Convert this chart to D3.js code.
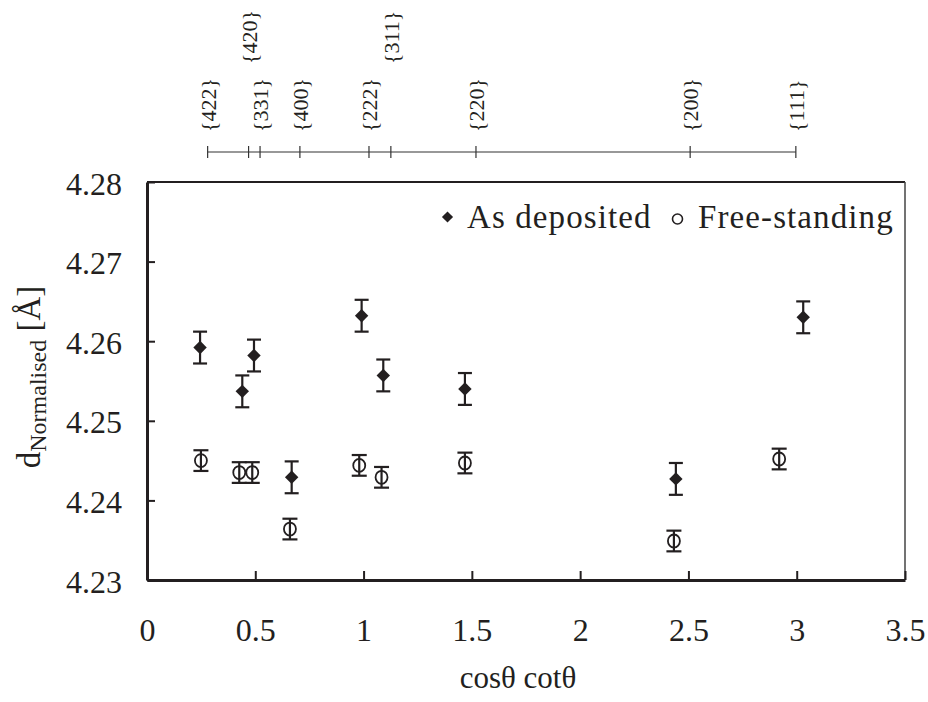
<!DOCTYPE html>
<html>
<head>
<meta charset="utf-8">
<script src="https://cdn.jsdelivr.net/npm/d3@7"></script>
<style>
  html, body { margin: 0; padding: 0; background: #fff; }
  svg { display: block; }
  svg text { font-family: "Liberation Serif", "DejaVu Serif", serif; fill: #231f20; }
</style>
</head>
<body>
<svg id="chart" width="928" height="702"></svg>
<script>
// Axis ticks
const xTicks = [0, 0.5, 1, 1.5, 2, 2.5, 3, 3.5];
const yTicks = [4.23, 4.24, 4.25, 4.26, 4.27, 4.28];

// As deposited (filled diamonds)
const asDepX   = [0.245, 0.440, 0.494, 0.668, 0.991, 1.091, 1.468, 2.442, 3.030];
const asDepY   = [4.2592, 4.2537, 4.2582, 4.2429, 4.2632, 4.2557, 4.2540, 4.2427, 4.2630];
const asDepErr = [0.0020, 0.0020, 0.0020, 0.0020, 0.0020, 0.0020, 0.0020, 0.0020, 0.0020];

// Free-standing (open circles)
const freeX   = [0.249, 0.426, 0.486, 0.660, 0.980, 1.083, 1.468, 2.433, 2.919];
const freeY   = [4.2450, 4.2435, 4.2435, 4.2364, 4.2444, 4.2429, 4.2447, 4.2349, 4.2452];
const freeErr = [0.0013, 0.0013, 0.0013, 0.0013, 0.0013, 0.0013, 0.0013, 0.0013, 0.0013];

// Reflection positions shown along the top scale
const hklLabels = ["{422}", "{420}", "{331}", "{400}", "{222}", "{311}", "{220}", "{200}", "{111}"];
const hklPos    = [0.280, 0.469, 0.522, 0.706, 1.025, 1.126, 1.519, 2.508, 2.996];
const hklRow    = [0, 1, 0, 0, 0, 1, 0, 0, 0];

const legendNames = ["As deposited", "Free-standing"];

const svg = d3.select("#chart");
const ink = "#231f20";
const serif = "'Liberation Serif', 'DejaVu Serif', serif";

const x = d3.scaleLinear().domain([0, 3.5]).range([147, 905]);
const y = d3.scaleLinear().domain([4.23, 4.28]).range([580, 182]);

// Frame: thin top/right edges
svg.append("line").attr("x1", x(0)).attr("x2", x(3.5)).attr("y1", y(4.28)).attr("y2", y(4.28))
  .attr("stroke", ink).attr("stroke-width", 2);
svg.append("line").attr("x1", x(3.5)).attr("x2", x(3.5)).attr("y1", y(4.28)).attr("y2", y(4.23))
  .attr("stroke", "#444").attr("stroke-width", 1.5);

// Bottom axis
const xAxis = svg.append("g").attr("transform", `translate(0,${y(4.23)})`)
  .call(d3.axisBottom(x).tickValues(xTicks).tickFormat(d => String(d))
    .tickSizeInner(-9).tickSizeOuter(0).tickPadding(0));
xAxis.attr("font-family", null);
xAxis.select(".domain").attr("stroke", ink).attr("stroke-width", 3);
xAxis.selectAll(".tick line").attr("stroke", ink).attr("stroke-width", 2);
xAxis.selectAll(".tick text").attr("y", 61).attr("dy", 0)
  .style("font-size", "32px").attr("fill", ink);

// Left axis
const yAxis = svg.append("g").attr("transform", `translate(${x(0)},0)`)
  .call(d3.axisLeft(y).tickValues(yTicks).tickFormat(d => d.toFixed(2))
    .tickSizeInner(-8).tickSizeOuter(0).tickPadding(0));
yAxis.attr("font-family", null);
yAxis.select(".domain").attr("stroke", ink).attr("stroke-width", 3);
yAxis.selectAll(".tick line").attr("stroke", ink).attr("stroke-width", 2);
yAxis.selectAll(".tick text").attr("x", -25).attr("dy", 0).attr("y", 12)
  .style("font-size", "32px").attr("fill", ink);

// Axis titles
svg.append("text").attr("x", 518).attr("y", 688).attr("text-anchor", "middle")
  .style("font-size", "31px").text("cosθ cotθ");

const yTitle = svg.append("text")
  .attr("transform", "translate(40,377) rotate(-90)")
  .attr("text-anchor", "middle")
  .style("font-size", "33px");
yTitle.append("tspan").text("d");
yTitle.append("tspan").attr("dy", 6).style("font-size", "24px").text("Normalised");
yTitle.append("tspan").attr("dy", -6).text(" [Å]");

// Top reflection scale
const scaleY = 152;
const hklAxis = svg.append("g");
hklAxis.append("line").attr("x1", x(hklPos[0])).attr("x2", x(hklPos[hklPos.length - 1]))
  .attr("y1", scaleY).attr("y2", scaleY).attr("stroke", "#333").attr("stroke-width", 1.2);
hklAxis.selectAll("line.hk").data(hklPos).join("line").attr("class", "hk")
  .attr("x1", d => x(d)).attr("x2", d => x(d))
  .attr("y1", scaleY - 6).attr("y2", scaleY + 6)
  .attr("stroke", "#333").attr("stroke-width", 1.2);
hklAxis.selectAll("text").data(hklLabels).join("text")
  .attr("transform", (d, i) => `translate(${x(hklPos[i]) + 8},${hklRow[i] ? 64 : 132}) rotate(-90)`)
  .attr("text-anchor", "start")
  .style("font-size", "22px")
  .text(d => d);

// Error bars
function errorBars(xs, ys, es, cap) {
  const g = svg.append("g").attr("stroke", ink).attr("stroke-width", 2.2).attr("fill", "none");
  const idx = d3.range(xs.length);
  g.selectAll("line.v").data(idx).join("line").attr("class", "v")
    .attr("x1", i => x(xs[i])).attr("x2", i => x(xs[i]))
    .attr("y1", i => y(ys[i] + es[i])).attr("y2", i => y(ys[i] - es[i]));
  g.selectAll("line.t").data(idx).join("line").attr("class", "t")
    .attr("x1", i => x(xs[i]) - cap).attr("x2", i => x(xs[i]) + cap)
    .attr("y1", i => y(ys[i] + es[i])).attr("y2", i => y(ys[i] + es[i]));
  g.selectAll("line.b").data(idx).join("line").attr("class", "b")
    .attr("x1", i => x(xs[i]) - cap).attr("x2", i => x(xs[i]) + cap)
    .attr("y1", i => y(ys[i] - es[i])).attr("y2", i => y(ys[i] - es[i]));
}

errorBars(asDepX, asDepY, asDepErr, 7);
errorBars(freeX, freeY, freeErr, 7.5);

// Markers
const diamond = d3.symbol(d3.symbolSquare, 90);
svg.append("g").selectAll("path").data(d3.range(asDepX.length)).join("path")
  .attr("d", diamond)
  .attr("transform", i => `translate(${x(asDepX[i])},${y(asDepY[i])}) rotate(45)`)
  .attr("fill", ink);

svg.append("g").selectAll("ellipse").data(d3.range(freeX.length)).join("ellipse")
  .attr("cx", i => x(freeX[i])).attr("cy", i => y(freeY[i]))
  .attr("rx", 6).attr("ry", 6.5)
  .attr("fill", "none").attr("stroke", ink).attr("stroke-width", 1.8);

// Legend
const lg = svg.append("g");
lg.append("path").attr("d", d3.symbol(d3.symbolSquare, 62))
  .attr("transform", "translate(447.5,217) rotate(45)").attr("fill", ink);
lg.append("text").attr("x", 467).attr("y", 228).style("font-size", "33px")
  .style("letter-spacing", "1.1px").text(legendNames[0]);
lg.append("circle").attr("cx", 677.5).attr("cy", 219).attr("r", 5)
  .attr("fill", "none").attr("stroke", ink).attr("stroke-width", 1.6);
lg.append("text").attr("x", 698).attr("y", 228).style("font-size", "33px")
  .style("letter-spacing", "1.1px").text(legendNames[1]);

// Serif face on every label
svg.selectAll("text").style("font-family", serif);
</script>
</body>
</html>
